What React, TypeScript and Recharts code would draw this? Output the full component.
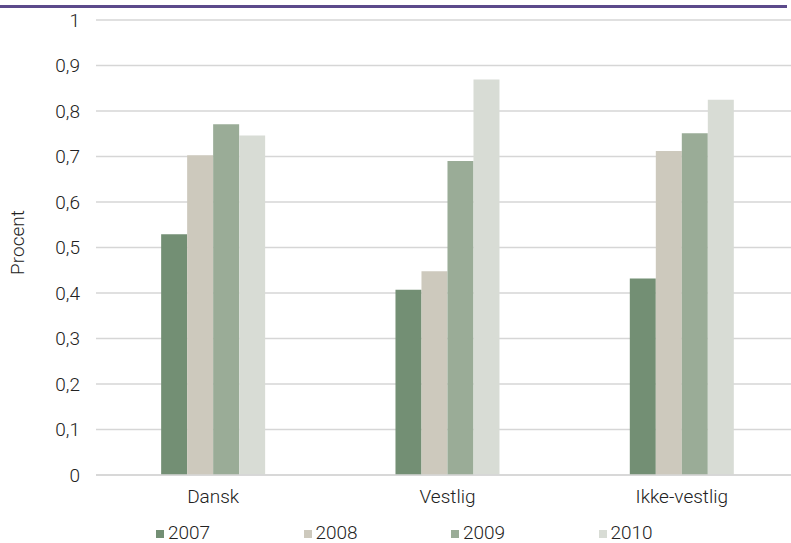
import React from 'react';
import {
  BarChart,
  Bar,
  XAxis,
  YAxis,
  CartesianGrid,
  Legend,
} from 'recharts';

const categories = ['Dansk', 'Vestlig', 'Ikke-vestlig'];
const years = ['2007', '2008', '2009', '2010'];

const values2007 = [0.529, 0.407, 0.432];
const values2008 = [0.703, 0.448, 0.712];
const values2009 = [0.771, 0.69, 0.751];
const values2010 = [0.746, 0.869, 0.825];

const yTicks = [0, 0.1, 0.2, 0.3, 0.4, 0.5, 0.6, 0.7, 0.8, 0.9, 1];

const seriesColors: Record<string, string> = {
  '2007': '#738f74',
  '2008': '#cdc9bd',
  '2009': '#9aac97',
  '2010': '#d8dcd5',
};

const seriesValues: Record<string, number[]> = {
  '2007': values2007,
  '2008': values2008,
  '2009': values2009,
  '2010': values2010,
};

const chartData = categories.map((name, i) => {
  const row: any = { name };
  years.forEach((y) => {
    row[y] = seriesValues[y][i];
  });
  return row;
});

const FONT = 'Roboto, "Open Sans", sans-serif';
const TEXT = '#222222';
const WEIGHT = 300;

const formatTick = (v: number) =>
  v === 0 || v === 1 ? String(v) : v.toFixed(1).replace('.', ',');

// legend: small square swatch + year, evenly spaced along the bottom
const LegendRow = ({ payload }: any) => (
  <div style={{ position: 'relative', height: 18, fontFamily: FONT, fontSize: 19, fontWeight: WEIGHT, lineHeight: '18px', color: TEXT }}>
    {(payload || []).map((entry: any, i: number) => (
      <div key={entry.value} style={{ position: 'absolute', left: 156 + i * 147.5, top: 0, whiteSpace: 'nowrap' }}>
        <span style={{ position: 'absolute', left: 0, top: 6, width: 8, height: 8, background: entry.color }} />
        <span style={{ position: 'absolute', left: 12, top: 0 }}>{entry.value}</span>
      </div>
    ))}
  </div>
);

const YLabel = ({ viewBox }: any) => {
  const cy = viewBox.y + viewBox.height / 2 - 5;
  return (
    <text
      x={17}
      y={cy}
      transform={`rotate(-90, 17, ${cy})`}
      textAnchor="middle"
      dominantBaseline="central"
      fontFamily={FONT}
      fontSize={19}
      fontWeight={WEIGHT}
      fill={TEXT}
    >
      Procent
    </text>
  );
};

export default function App() {
  return (
    <div style={{ position: 'absolute', left: 0, top: 0, width: 791, height: 543, overflow: 'hidden', background: '#fff' }}>
      <div style={{ position: 'absolute', left: 0, top: 5, width: 787, height: 2.5, background: '#5c4a8b' }} />
      <BarChart
        width={800}
        height={543}
        data={chartData}
        margin={{ top: 20, right: 1, bottom: 38, left: 0 }}
        barCategoryGap="27.8%"
        barGap={0}
      >
        <CartesianGrid vertical={false} stroke="#d6d6d6" strokeWidth={1.5} />
        <XAxis
          dataKey="name"
          height={30}
          tickLine={false}
          axisLine={{ stroke: '#d6d6d6', strokeWidth: 1.5 }}
          tickMargin={9}
          tick={{ fill: TEXT, fontSize: 19, fontFamily: FONT, fontWeight: WEIGHT }}
        />
        <YAxis
          width={96}
          domain={[0, 1]}
          ticks={yTicks}
          tickFormatter={formatTick}
          tickLine={false}
          axisLine={false}
          tickMargin={10}
          tick={{ fill: TEXT, fontSize: 19, fontFamily: FONT, fontWeight: WEIGHT }}
          label={<YLabel />}
        />
        <Legend
          verticalAlign="middle"
          align="center"
          content={<LegendRow />}
          wrapperStyle={{ top: 524, left: 0, width: 800, height: 18 }}
        />
        {years.map((y) => (
          <Bar key={y} dataKey={y} name={y} fill={seriesColors[y]} isAnimationActive={false} />
        ))}
      </BarChart>
    </div>
  );
}
